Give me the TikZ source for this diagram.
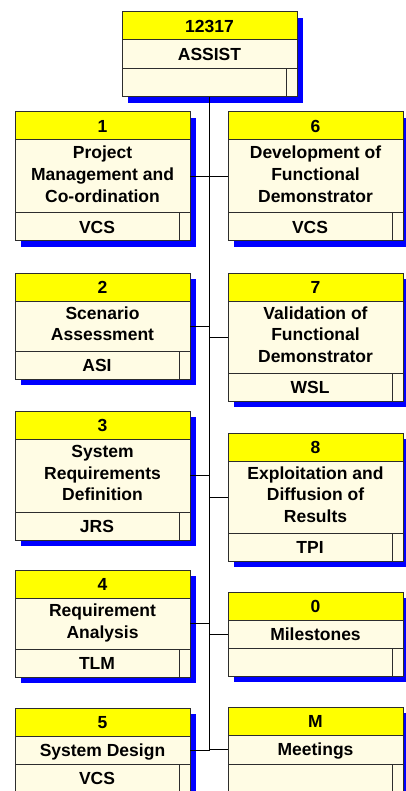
\documentclass[tikz,border=0pt]{standalone}
\usepackage{fontspec}
\setmainfont{Liberation Sans}
\usetikzlibrary{positioning,backgrounds}
\definecolor{wphead}{RGB}{255,255,0}
\definecolor{wpbody}{RGB}{255,252,228}
\definecolor{wpedge}{RGB}{45,45,45}
\definecolor{wpshade}{RGB}{0,0,255}
\newcommand\wpstrut{\rule[-0.22\baselineskip]{0pt}{\baselineskip}}
\tikzset{
  wpcell/.style={draw=wpedge, line width=1pt, outer sep=0pt, inner sep=0pt,
    minimum width=175pt, align=center,
    font=\bfseries\fontsize{17.5}{21.7}\selectfont,
    execute at begin node=\wpstrut, execute at end node=\wpstrut},
  wphdr/.style={wpcell, fill=wphead, minimum height=28pt},
  wptitle/.style={wpcell, fill=wpbody, minimum height=#1},
  wpfoot/.style={wpcell, fill=wpbody, minimum height=28pt, minimum width=164pt},
  wptick/.style={wpcell, fill=wpbody, minimum height=28pt, minimum width=11pt},
  wpline/.style={draw=black, line width=1pt}
}
% one work package: name, x, y, number, title, leader, title height
\newcommand\wpbox[7]{
  \node[wphdr, anchor=north west] (#1) at (#2,#3) {#4};
  \node[wptitle=#7, anchor=north] (#1-t) at (#1.south) {#5};
  \node[wpfoot, anchor=north west] (#1-f) at (#1-t.south west) {#6};
  \node[wptick, anchor=north west] (#1-x) at (#1-f.north east) {};
  \begin{scope}[on background layer]
    \fill[wpshade] ([shift={(6pt,-6pt)}]#1.north west) rectangle ([shift={(6pt,-6pt)}]#1-x.south east);
  \end{scope}
}
\begin{document}
\begin{tikzpicture}[x=1pt, y=-1pt]
\useasboundingbox (0,0) rectangle (405,791);
% project
\wpbox{top}{122}{12}{12317}{ASSIST}{}{29pt}
% left hand
\wpbox{wp1}{15}{112}{1}{Project\\Management and\\Co-ordination}{VCS}{73pt}
\wpbox{wp2}{15}{273}{2}{Scenario\\Assessment}{ASI}{50pt}
\wpbox{wp3}{15}{411}{3}{System\\Requirements\\Definition}{JRS}{73pt}
\wpbox{wp4}{15}{570}{4}{Requirement\\Analysis}{TLM}{51pt}
\wpbox{wp5}{15}{708}{5}{System Design}{VCS}{28pt}
% right hand
\wpbox{wp6}{228}{112}{6}{Development of\\Functional\\Demonstrator}{VCS}{73pt}
\wpbox{wp7}{228}{273}{7}{Validation of\\Functional\\Demonstrator}{WSL}{72pt}
\wpbox{wp8}{228}{433}{8}{Exploitation and\\Diffusion of\\Results}{TPI}{72pt}
\wpbox{wp0}{228}{592}{0}{Milestones}{}{28pt}
\wpbox{wpM}{228}{707}{M}{Meetings}{}{29pt}
% tree lines
\draw[wpline] (top-f.south -| top) -- (wp5-t.east -| top);
\foreach \n in {1,2,3,4,5}
  \draw[wpline] (wp\n-t.east) -- (wp\n-t.east -| top);
\foreach \n in {6,7,8,0,M}
  \draw[wpline] (wp\n-t.west) -- (wp\n-t.west -| top);
\end{tikzpicture}
\end{document}
